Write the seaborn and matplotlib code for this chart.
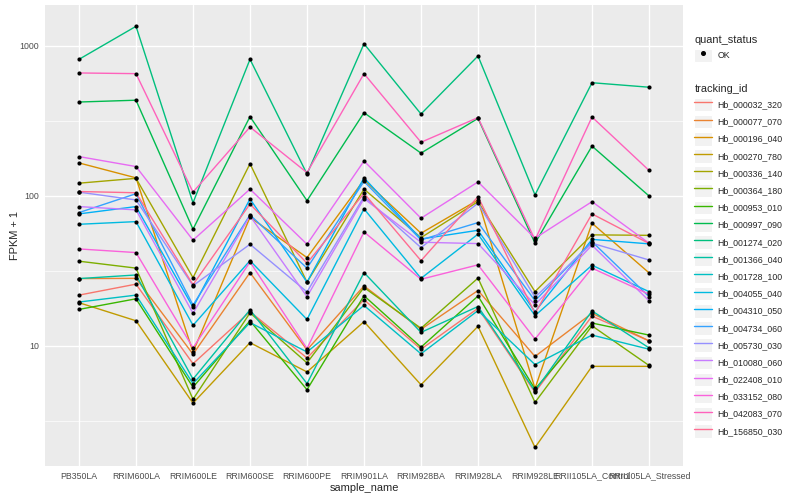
import pandas as pd
import matplotlib.pyplot as plt
import seaborn as sns
from matplotlib.lines import Line2D
from matplotlib.patches import Rectangle
from matplotlib.legend_handler import HandlerLine2D
from matplotlib.ticker import FixedLocator, NullFormatter

# -----------------------
# Data (FPKM + 1)
# -----------------------
samples = ["PB350LA", "RRIM600LA", "RRIM600LE", "RRIM600SE", "RRIM600PE",
           "RRIM901LA", "RRIM928BA", "RRIM928LA", "RRIM928LE",
           "RRII105LA_Control", "RRII105LA_Stressed"]

tracking_ids = ["Hb_000032_320", "Hb_000077_070", "Hb_000196_040", "Hb_000270_780",
                "Hb_000336_140", "Hb_000364_180", "Hb_000953_010", "Hb_000997_090",
                "Hb_001274_020", "Hb_001366_040", "Hb_001728_100", "Hb_004055_040",
                "Hb_004310_050", "Hb_004734_060", "Hb_005730_030", "Hb_010080_060",
                "Hb_022408_010", "Hb_033152_080", "Hb_042083_070", "Hb_156850_030"]

hb_000032_320 = [21.8, 25.8, 7.6, 16.9, 8.3, 20.3, 9.5, 17.8, 4.9, 15.8, 10.8]
hb_000077_070 = [28.1, 28.2, 8.8, 30.8, 9.4, 25.1, 12.9, 23.4, 8.5, 16.5, 10.8]
hb_000196_040 = [166, 132, 9.1, 72, 38.8, 128, 56.4, 94, 5.2, 65.8, 30.7]
hb_000270_780 = [19.4, 14.7, 4.15, 10.5, 6.7, 14.5, 5.5, 13.5, 2.1, 7.3, 7.3]
hb_000336_140 = [121.6, 131, 28.5, 164, 26.6, 111, 52.7, 91.6, 23, 55, 54.6]
hb_000364_180 = [36.7, 33, 4.4, 16.6, 7.7, 24.5, 13.1, 28.3, 4.2, 13.6, 7.4]
hb_000953_010 = [17.5, 20.6, 5.3, 14.7, 5.1, 21.6, 9.8, 21.5, 5.15, 14.2, 11.8]
hb_000997_090 = [423, 435, 60, 338, 93, 359, 193, 329, 48.4, 215, 100]
hb_001274_020 = [815, 1353, 90, 815, 140, 1035, 352, 858, 101.6, 569, 531]
hb_001366_040 = [28.1, 29.7, 6.0, 17.4, 5.6, 30.8, 12.3, 18.3, 5.0, 17.1, 9.7]
hb_001728_100 = [19.6, 21.8, 5.6, 14.3, 9.1, 18.6, 8.85, 17.2, 7.5, 11.8, 9.5]
hb_004055_040 = [64.7, 67.4, 13.7, 37, 15, 82, 28.2, 55.6, 15.9, 34.5, 23]
hb_004310_050 = [75.9, 84.9, 18.1, 95.5, 26.6, 132, 51.6, 59, 16.9, 51.3, 47.9]
hb_004734_060 = [77.4, 103.5, 18.7, 74.7, 33, 125, 50.9, 66.4, 20, 49.6, 21.3]
hb_005730_030 = [106, 94, 25.2, 47.6, 22.9, 98.9, 45.2, 89.4, 21.1, 48.4, 37.4]
hb_010080_060 = [84.9, 80.7, 16.5, 73.6, 21.3, 96, 49.1, 48.1, 18.8, 46.9, 20]
hb_022408_010 = [183, 157, 50.7, 111, 47.6, 171, 71, 124, 52.2, 91.6, 48.4]
hb_033152_080 = [44.3, 41.9, 9.7, 36.3, 9.6, 57.5, 27.8, 34.7, 11.1, 33, 22.1]
hb_042083_070 = [661, 654, 106, 288, 143, 654, 228, 333, 50.9, 336, 148]
hb_156850_030 = [107, 105, 25.6, 88.4, 35.6, 104, 37, 98.9, 16.5, 75.9, 48.2]

series = [hb_000032_320, hb_000077_070, hb_000196_040, hb_000270_780,
          hb_000336_140, hb_000364_180, hb_000953_010, hb_000997_090,
          hb_001274_020, hb_001366_040, hb_001728_100, hb_004055_040,
          hb_004310_050, hb_004734_060, hb_005730_030, hb_010080_060,
          hb_022408_010, hb_033152_080, hb_042083_070, hb_156850_030]

# ggplot2 default hue palette for 20 levels
colors = ["#F8766D", "#EA8331", "#D89000", "#C09B00", "#A3A500", "#7CAE00",
          "#39B600", "#00BB4E", "#00BF7D", "#00C1A3", "#00BFC4", "#00BAE0",
          "#00B0F6", "#35A2FF", "#9590FF", "#C77CFF", "#E76BF3", "#FA62DB",
          "#FF62BC", "#FF6C91"]

rows = []
for tid, vals in zip(tracking_ids, series):
    for s, v in zip(samples, vals):
        rows.append({"tracking_id": tid, "sample_name": s, "fpkm": v})
df = pd.DataFrame(rows)

# -----------------------
# Theme (ggplot grey look)
# -----------------------
sns.set_theme(style="darkgrid", rc={
    "axes.facecolor": "#EBEBEB",
    "grid.color": "white",
    "axes.edgecolor": "#EBEBEB",
})
plt.rcParams["font.family"] = ["Liberation Sans", "DejaVu Sans"]

fig, ax = plt.subplots(figsize=(8, 5), dpi=100)
fig.subplots_adjust(left=0.056, right=0.854, top=0.99, bottom=0.068)

sns.lineplot(data=df, x="sample_name", y="fpkm", hue="tracking_id",
             palette=dict(zip(tracking_ids, colors)), linewidth=1.0,
             estimator=None, sort=False, legend=False, ax=ax)
sns.scatterplot(data=df, x="sample_name", y="fpkm", color="black", s=9,
                linewidth=0, legend=False, ax=ax, zorder=3)

ax.set_yscale("log")
ax.set_ylim(1.58, 1877)
ax.set_xlim(-0.6, len(samples) - 0.4)
ax.set_yticks([10, 100, 1000])
ax.set_yticklabels(["10", "100", "1000"])
ax.yaxis.set_minor_locator(FixedLocator([10 ** 0.5, 10 ** 1.5, 10 ** 2.5]))
ax.yaxis.set_minor_formatter(NullFormatter())
ax.set_axisbelow(True)
ax.grid(which="major", color="white", linewidth=1.0)
ax.grid(which="minor", axis="y", color="white", linewidth=0.5)
for sp in ax.spines.values():
    sp.set_visible(False)

ax.tick_params(which="major", length=2, width=0.6, color="#333333",
               labelsize=6.3, labelcolor="#4D4D4D", pad=2)
ax.tick_params(which="minor", length=0)
ax.set_xlabel("sample_name", fontsize=7.9, labelpad=2)
ax.set_ylabel("FPKM + 1", fontsize=7.9, labelpad=0)


# -----------------------
# Legends (grey key boxes like ggplot)
# -----------------------
class KeyHandler(HandlerLine2D):
    def create_artists(self, legend, orig_handle, xdescent, ydescent,
                       width, height, fontsize, trans):
        box = Rectangle((-xdescent, -ydescent), width, height,
                        facecolor="#F2F2F2", edgecolor="white", linewidth=0.8,
                        transform=trans)
        arts = super().create_artists(legend, orig_handle, xdescent, ydescent,
                                      width, height, fontsize, trans)
        return [box] + arts


common = dict(loc="upper left", frameon=False, fontsize=6.3,
              title_fontsize=7.9, alignment="left", handlelength=2.0,
              handleheight=2.0, labelspacing=0.42, handletextpad=0.6,
              borderpad=0, borderaxespad=0)

ok_handle = [Line2D([], [], color="black", marker="o", markersize=2.6,
                    linestyle="none")]
leg1 = fig.legend(ok_handle, ["OK"], title="quant_status",
                  bbox_to_anchor=(0.868, 0.93),
                  handler_map={Line2D: KeyHandler(numpoints=1)}, **common)

id_handles = [Line2D([], [], color=c, linewidth=1.0) for c in colors]
leg2 = fig.legend(id_handles, tracking_ids, title="tracking_id",
                  bbox_to_anchor=(0.868, 0.832),
                  handler_map={Line2D: KeyHandler()}, **common)

plt.savefig("out.png", dpi=100)
